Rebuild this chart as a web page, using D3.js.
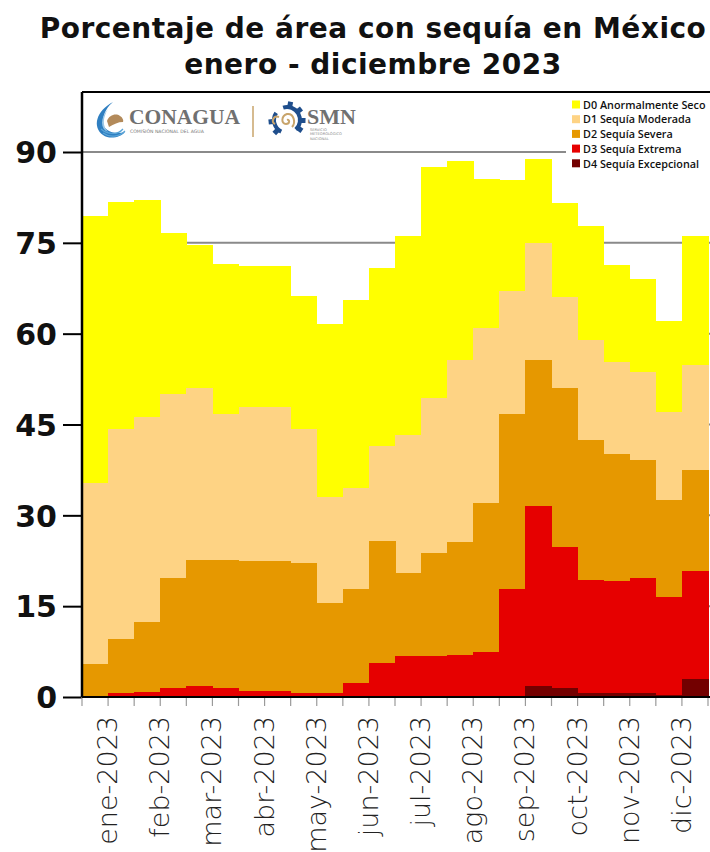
<!DOCTYPE html>
<html>
<head>
<meta charset="utf-8">
<script src="https://cdn.jsdelivr.net/npm/d3@7"></script>
<style>
  html, body { margin: 0; padding: 0; background: #fff; }
  svg { display: block; }
</style>
</head>
<body>
<svg id="chart" width="710" height="852"></svg>
<script>
// Biweekly drought monitor dates, 2023
const periods = ["15-ene","31-ene","15-feb","28-feb","15-mar","31-mar","15-abr","30-abr",
  "15-may","31-may","15-jun","30-jun","15-jul","31-jul","15-ago","31-ago",
  "15-sep","30-sep","15-oct","31-oct","15-nov","30-nov","15-dic","31-dic"];

// Cumulative percentage of national area per intensity (Dn and worse)
const d0_d4 = [79.4,81.8,82.0,76.6,74.6,71.5,71.1,71.1,66.3,61.6,65.6,70.8,
               76.1,87.6,88.5,85.5,85.4,88.8,81.5,77.8,71.4,69.0,62.1,76.1];
const d1_d4 = [35.3,44.2,46.2,50.1,51.1,46.7,47.9,47.9,44.2,33.0,34.5,41.5,
               43.3,49.3,55.6,60.9,67.0,74.9,66.1,59.0,55.4,53.6,47.0,54.8];
const d2_d4 = [5.4,9.5,12.4,19.7,22.6,22.6,22.5,22.5,22.2,15.6,17.9,25.8,
               20.5,23.7,25.6,32.0,46.8,55.6,51.1,42.4,40.1,39.1,32.5,37.5];
const d3_d4 = [0.2,0.6,0.8,1.5,1.8,1.5,1.0,1.0,0.7,0.7,2.3,5.6,
               6.8,6.7,6.9,7.4,17.9,31.6,24.8,19.3,19.1,19.6,16.5,20.8];
const d4    = [0,0,0,0,0,0,0,0,0,0,0,0,
               0,0,0,0,0,1.8,1.5,0.7,0.7,0.7,0.3,3.0];

const seriesNames = ["D0 Anormalmente Seco","D1 Sequía Moderada","D2 Sequía Severa",
                     "D3 Sequía Extrema","D4 Sequía Excepcional"];
const seriesColors = ["#FFFF00","#FED384","#E69800","#E60000","#730000"];
const seriesValues = [d0_d4, d1_d4, d2_d4, d3_d4, d4];

const monthLabels = ["ene-2023","feb-2023","mar-2023","abr-2023","may-2023","jun-2023",
                     "jul-2023","ago-2023","sep-2023","oct-2023","nov-2023","dic-2023"];
const yTicks = [0,15,30,45,60,75,90];

const svg = d3.select("#chart");
const plot = {left: 82, right: 710, top: 92, bottom: 697};

const x = d3.scaleBand().domain(periods).range([plot.left, plot.right - 2]).paddingInner(0).paddingOuter(0);
const y = d3.scaleLinear().domain([0, 90]).range([plot.bottom, 152]);

// Title
const title = svg.append("g").attr("font-family", "'DejaVu Sans', sans-serif")
  .attr("font-weight", "bold").attr("font-size", 28).attr("letter-spacing", 0.5)
  .attr("fill", "#111").attr("text-anchor", "middle");
title.append("text").attr("x", 373).attr("y", 38).text("Porcentaje de área con sequía en México");
title.append("text").attr("x", 373).attr("y", 74).text("enero - diciembre 2023");

// Horizontal gridlines (behind the areas)
svg.append("g").selectAll("line").data(yTicks.filter(d => d > 0)).join("line")
  .attr("x1", plot.left).attr("x2", plot.right)
  .attr("y1", d => y(d)).attr("y2", d => y(d))
  .attr("stroke", "#8a8a8a").attr("stroke-width", 2);

// Drought intensity steps, from the widest class to the most intense
seriesValues.forEach((vals, si) => {
  svg.append("g").attr("shape-rendering", "crispEdges")
    .selectAll("rect").data(periods).join("rect")
    .attr("x", d => x(d))
    .attr("width", x.bandwidth() + 0.5)
    .attr("y", (d, i) => y(vals[i]))
    .attr("height", (d, i) => y(0) - y(vals[i]))
    .attr("fill", seriesColors[si]);
});

// Frame
svg.append("line").attr("x1", plot.left).attr("x2", plot.right).attr("y1", plot.top).attr("y2", plot.top)
  .attr("stroke", "#000").attr("stroke-width", 2);

// Y axis
const yAxis = svg.append("g").attr("transform", `translate(${plot.left},0)`)
  .call(d3.axisLeft(y).tickValues(yTicks).tickSize(19).tickPadding(6).tickFormat(d3.format("d")));
yAxis.select(".domain").attr("stroke", "#000").attr("stroke-width", 2.5)
  .attr("d", `M0,${plot.top}V${plot.bottom}`);
yAxis.selectAll(".tick line").attr("stroke", "#000").attr("stroke-width", 2);
yAxis.selectAll(".tick text").attr("font-family", "'DejaVu Sans', sans-serif")
  .attr("font-weight", "bold").attr("font-size", 30).attr("fill", "#111").attr("dy", "0.36em");

// X axis: boundaries between periods, month labels every other boundary
const boundaries = d3.range(periods.length + 1);
const bx = i => plot.left + i * x.step();
svg.append("g").selectAll("line").data(boundaries).join("line")
  .attr("x1", bx).attr("x2", bx).attr("y1", plot.bottom).attr("y2", plot.bottom + 9)
  .attr("stroke", "#9a9a9a").attr("stroke-width", 1.2);
svg.append("line").attr("x1", plot.left).attr("x2", plot.right).attr("y1", plot.bottom).attr("y2", plot.bottom)
  .attr("stroke", "#000").attr("stroke-width", 2);

svg.append("g").selectAll("text").data(monthLabels).join("text")
  .attr("transform", (d, i) => `translate(${bx(2 * i + 1) + 9},716) rotate(-90)`)
  .attr("text-anchor", "end")
  .attr("font-family", "'DejaVu Sans', sans-serif").attr("font-weight", 200)
  .attr("font-size", 27).attr("fill", "#222")
  .text(d => d);

// Legend
const legend = svg.append("g");
legend.append("rect").attr("x", 566).attr("y", 94).attr("width", 144).attr("height", 78).attr("fill", "#fff");
const lg = legend.selectAll("g").data(seriesNames).join("g")
  .attr("transform", (d, i) => `translate(572,${105 + i * 14.7})`);
lg.append("rect").attr("x", 0).attr("y", -4.5).attr("width", 8).attr("height", 8)
  .attr("fill", (d, i) => seriesColors[i]);
lg.append("text").attr("x", 11).attr("y", 0).attr("dy", "0.35em")
  .attr("font-family", "'Open Sans', sans-serif").attr("font-weight", 600)
  .attr("font-size", 10.8).attr("fill", "#111").text(d => d);

// Institutional header: CONAGUA | SMN
const logo = svg.append("g");
// water swirl emblem
logo.append("path").attr("d", "M113,102 C96,111 92,127 103,135 C110,140 121,137 125,132 C114,135 103,131 103,122 C103,113 108,106 113,102Z")
  .attr("fill", "#2f7fc1");
logo.append("path").attr("d", "M108,109 C100,118 100,129 108,132 C102,126 103,117 108,109Z").attr("fill", "#9bc7e6");
logo.append("path").attr("d", "M103,133 C110,138 119,137 125,131 M101,129 C108,135 118,135 123,129")
  .attr("fill", "none").attr("stroke", "#5aa5d8").attr("stroke-width", 1.2);
logo.append("path").attr("d", "M107,121 C109,115 116,113 120,116 C122,117 124,120 123,122 C118,122 114,124 109,127 Z")
  .attr("fill", "#b38a5a");
logo.append("text").attr("x", 129).attr("y", 124)
  .attr("font-family", "'Liberation Serif', serif").attr("font-weight", "bold")
  .attr("font-size", 21.5).attr("fill", "#707070").text("CONAGUA");
logo.append("text").attr("x", 130).attr("y", 133)
  .attr("font-family", "'DejaVu Sans', sans-serif").attr("font-size", 4.6)
  .attr("fill", "#777").text("COMISIÓN NACIONAL DEL AGUA");
logo.append("line").attr("x1", 253).attr("x2", 253).attr("y1", 106).attr("y2", 137)
  .attr("stroke", "#c8a46b").attr("stroke-width", 1.5);
// SMN emblem: gear ring with spiral
const gear = logo.append("g").attr("transform", "translate(287,120)");
gear.append("path").attr("d", d3.arc()({innerRadius: 11, outerRadius: 15, startAngle: -0.3, endAngle: 2.4}))
  .attr("fill", "#1f4e8c");
gear.append("path").attr("d", d3.arc()({innerRadius: 11, outerRadius: 15, startAngle: 3.6, endAngle: 5.3}))
  .attr("fill", "#1f4e8c");
[0.2, 0.9, 1.6, 2.2, 3.9, 4.6].forEach(a => {
  gear.append("rect").attr("x", -2.5).attr("y", -18.5).attr("width", 5).attr("height", 4.5)
    .attr("fill", "#1f4e8c").attr("transform", `rotate(${a * 180 / Math.PI})`);
});
gear.append("path").attr("d", "M0,0 C3,-1 3,4 -1,4 C-6,4 -6,-4 0,-6 C7,-7 9,3 5,7 M-8,-3 C-14,-5 -16,2 -12,4")
  .attr("fill", "none").attr("stroke", "#c8a46b").attr("stroke-width", 2);
logo.append("text").attr("x", 307).attr("y", 124)
  .attr("font-family", "'Liberation Serif', serif").attr("font-weight", "bold")
  .attr("font-size", 22).attr("fill", "#707070").text("SMN");
["SERVICIO","METEOROLÓGICO","NACIONAL"].forEach((t, i) => {
  logo.append("text").attr("x", 310).attr("y", 131 + i * 4.3)
    .attr("font-family", "'DejaVu Sans', sans-serif").attr("font-size", 3.6)
    .attr("fill", "#888").text(t);
});
</script>
</body>
</html>
